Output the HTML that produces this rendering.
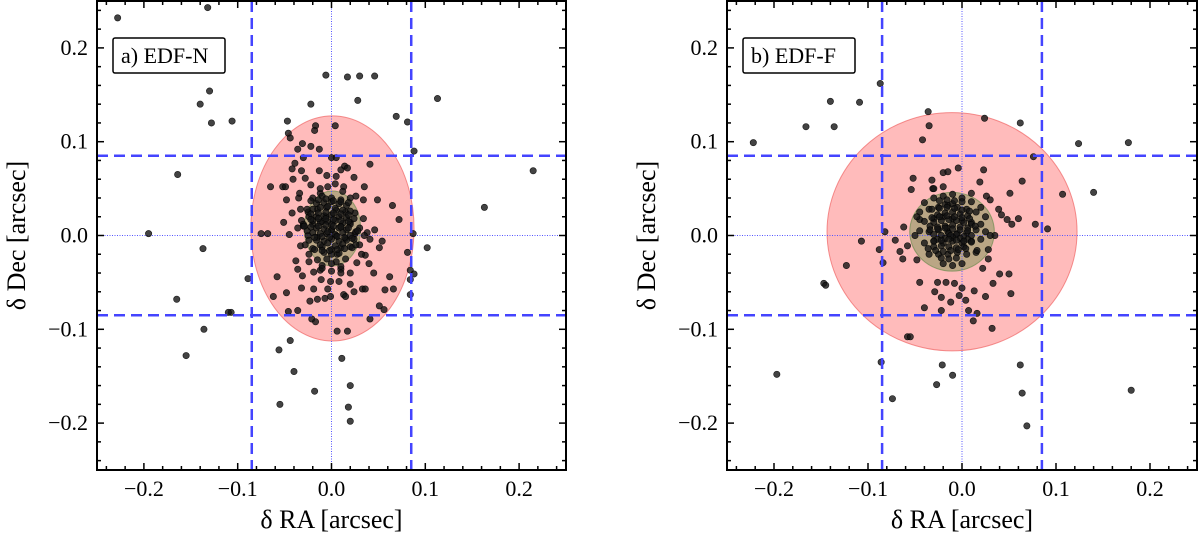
<!DOCTYPE html>
<html><head><meta charset="utf-8"><style>
body{margin:0;background:#fff;}
svg{display:block;}
text{font-family:"Liberation Serif","DejaVu Serif",serif;}
</style></head><body>
<svg id="fig" width="1200" height="536" viewBox="0 0 1200 536" xmlns="http://www.w3.org/2000/svg"></svg>
<script>
const ticks=[-0.2,-0.1,0.0,0.1,0.2];
const tickLabels=["\u22120.2","\u22120.1","0.0","0.1","0.2"];
const dashLimit=0.085;
const ellipseA={ra:0.001,dec:0.0075,rx:0.087,ry:0.12};
const coreA={ra:0.001,dec:0.0075,rx:0.03,ry:0.04};
const ellipseB={ra:-0.0106,dec:0.004,rx:0.133,ry:0.127};
const coreB={ra:-0.0106,dec:0.004,rx:0.045,ry:0.042};
const raA=[-0.022,0.028,-0.106,-0.047,0.069,0.081,-0.017,0.004,-0.046,-0.044,-0.018,-0.031,-0.022,-0.013,-0.036,0.088,0,0.005,-0.03,-0.039,0.041,0.014,0.017,-0.042,-0.032,-0.013,0.01,-0.028,-0.041,0.024,-0.005,0.005,-0.065,-0.052,-0.049,-0.022,0.013,0.035,0.026,-0.012,-0.048,-0.035,0.049,0.065,0.034,-0.042,-0.033,0.072,0.034,-0.051,-0.032,0.046,-0.075,-0.068,-0.045,-0.036,0.038,0.087,0.102,0.054,0.041,0.051,0.036,0.081,-0.033,-0.024,-0.038,-0.036,-0.024,0.027,0.04,0.045,0.084,0.088,0.01,-0.012,0.02,-0.019,-0.031,-0.089,-0.058,0.062,-0.001,0.008,-0.011,0.084,0.02,-0.032,-0.019,-0.004,0.033,0.036,0.057,0.066,-0.048,-0.062,0.024,0.013,0.015,0.084,-0.023,-0.015,-0.007,-0.001,0.051,0.056,-0.046,-0.036,-0.107,0.041,-0.021,-0.017,0.006,0.017,-0.044,-0.056,0.011,
-0.195,-0.164,-0.165,-0.155,-0.137,-0.136,-0.11,-0.13,-0.14,-0.128,-0.132,-0.228,-0.006,0.017,0.03,0.046,0.113,0.163,0.215,0.02,0.018,0.02,-0.018,-0.055,-0.04,
-0.02,-0.01,0,0.01,0.02,-0.025,-0.015,-0.005,0.005,0.015,0.025,-0.02,-0.01,0,0.01,0.02,-0.025,-0.015,-0.005,0.005,0.015,0.025,-0.02,-0.01,0,0.01,0.02,-0.015,-0.005,0.005,0.015,-0.01,0,0.01,-0.03,0.03,-0.028,0.03,-0.012,0.012,0.0,-0.006,0.006,
-0.016,-0.008,0.0,0.008,0.016,-0.02,-0.012,-0.004,0.004,0.012,0.02,-0.016,-0.008,0.0,0.008,0.016,-0.02,-0.012,-0.004,0.004,0.012,0.02,-0.016,-0.008,0.0,0.008,0.016,-0.02,-0.012,-0.004,0.004,0.012,0.02,-0.016,-0.008,0.0,0.008,0.016,-0.012,-0.004,0.004,0.012,-0.008,0.0,0.008,-0.024,0.024,-0.024,0.024,-0.026,0.026,-0.034,-0.03,0.035,0.032,-0.01,0.01,0.0,-0.004,0.004,
-0.022,-0.014,-0.006,0.002,0.01,0.018,-0.022,-0.014,-0.006,0.002,0.01,0.018,-0.022,-0.014,-0.006,0.002,0.01,0.018,-0.022,-0.014,-0.006,0.002,0.01,0.018,-0.018,-0.01,-0.002,0.006,0.014,0.022,-0.018,-0.01,-0.002,0.006,0.014,0.022,-0.026,0.026,-0.029,0.028];
const decA=[0.14,0.144,0.122,0.122,0.127,0.121,0.117,0.117,0.109,0.104,0.112,0.098,0.095,0.092,0.092,0.09,0.083,0.083,0.083,0.077,0.076,0.074,0.072,0.071,0.069,0.069,0.07,0.061,0.06,0.062,0.064,0.063,0.052,0.052,0.052,0.054,0.052,0.052,0.042,0.045,0.038,0.04,0.038,0.032,0.038,0.024,0.028,0.017,0.018,0.014,0.016,0.006,0.002,0.002,0.001,0.008,0.003,0.002,-0.013,-0.006,-0.004,-0.013,-0.021,-0.018,-0.011,-0.02,-0.027,-0.036,-0.028,-0.029,-0.03,-0.04,-0.037,-0.041,-0.036,-0.037,-0.04,-0.039,-0.043,-0.046,-0.044,-0.044,-0.049,-0.049,-0.047,-0.047,-0.052,-0.056,-0.057,-0.057,-0.057,-0.057,-0.058,-0.057,-0.061,-0.065,-0.06,-0.063,-0.065,-0.063,-0.07,-0.068,-0.067,-0.065,-0.075,-0.079,-0.081,-0.08,-0.082,-0.089,-0.089,-0.092,-0.102,-0.102,-0.112,-0.122,-0.131,
0.002,0.065,-0.068,-0.128,-0.014,-0.1,-0.082,0.154,0.14,0.12,0.243,0.232,0.171,0.169,0.17,0.17,0.146,0.03,0.069,-0.16,-0.183,-0.198,-0.166,-0.18,-0.145,
0.04,0.042,0.04,0.038,0.04,0.025,0.028,0.03,0.027,0.025,0.024,0.012,0.015,0.012,0.01,0.014,0.0,-0.002,0.002,0.0,-0.003,0.002,-0.014,-0.012,-0.015,-0.013,-0.012,-0.026,-0.025,-0.028,-0.025,-0.032,-0.03,-0.033,0.012,0.008,-0.01,-0.01,0.05,0.047,0.006,0.02,-0.02,
0.034,0.035,0.036,0.034,0.032,0.028,0.03,0.031,0.029,0.027,0.026,0.02,0.021,0.022,0.02,0.019,0.016,0.014,0.015,0.016,0.013,0.012,0.008,0.007,0.006,0.008,0.006,0.003,0.002,0.004,0.001,0.003,0.0,-0.005,-0.006,-0.004,-0.006,-0.005,-0.01,-0.008,-0.011,-0.009,-0.018,-0.02,-0.019,0.02,0.018,-0.005,-0.004,0.005,0.004,0.045,0.01,0.0,-0.02,-0.035,-0.04,-0.038,0.052,0.055,
0.037,0.038,0.039,0.037,0.036,0.035,0.023,0.024,0.025,0.024,0.023,0.022,0.017,0.018,0.018,0.017,0.016,0.015,0.009,0.01,0.011,0.01,0.009,0.008,-0.002,-0.001,-0.002,-0.001,-0.002,-0.003,-0.015,-0.016,-0.016,-0.015,-0.014,-0.013,0.028,-0.01,0.01,0.005];
const raB=[-0.109,-0.136,-0.036,-0.035,-0.042,0.024,0.062,0.124,0.076,-0.004,-0.02,-0.015,0.023,-0.052,-0.032,0.019,0.064,-0.054,-0.031,-0.02,0.107,0.051,0.026,0.03,0.039,0.042,0.048,0.053,0.06,0.078,0.091,0.035,-0.062,-0.045,-0.071,-0.082,-0.107,-0.088,-0.066,-0.058,-0.063,-0.123,-0.084,-0.048,0.028,0.022,0.04,0.05,0.033,0.052,-0.147,-0.045,-0.026,-0.017,-0.008,0,-0.029,-0.022,-0.012,-0.003,0.004,0.013,0.025,-0.04,-0.022,0.007,0.016,0.012,0.032,-0.058,-0.055,-0.086,-0.021,-0.01,0.062,
-0.222,-0.166,-0.14,-0.087,0.177,0.14,-0.145,-0.197,-0.074,-0.027,0.069,0.18,0.064,
-0.04,-0.03,-0.02,-0.01,0,0.01,0.02,-0.045,-0.035,-0.025,-0.015,-0.005,0.005,0.015,0.025,-0.04,-0.03,-0.02,-0.01,0,0.01,0.02,-0.045,-0.035,-0.025,-0.015,-0.005,0.005,0.015,0.025,-0.04,-0.03,-0.02,-0.01,0,0.01,0.02,-0.035,-0.025,-0.015,-0.005,0.005,0.015,-0.02,-0.01,0,-0.05,0.03,-0.048,0.028,-0.03,0.01,
-0.026,-0.018,-0.01,-0.002,0.006,-0.03,-0.022,-0.014,-0.006,0.002,0.01,-0.026,-0.018,-0.01,-0.002,0.006,-0.03,-0.022,-0.014,-0.006,0.002,0.01,-0.026,-0.018,-0.01,-0.002,0.006,-0.03,-0.022,-0.014,-0.006,0.002,-0.022,-0.014,-0.006,-0.018,-0.01,-0.034,0.014,-0.036,0.016,-0.012,-0.016,
-0.032,-0.024,-0.016,-0.008,0.0,0.008,-0.032,-0.024,-0.016,-0.008,0.0,0.008,-0.034,-0.026,-0.018,-0.01,-0.002,0.006,-0.03,-0.022,-0.014,-0.006,0.002,0.01,-0.028,-0.02,-0.012,-0.004,0.004,-0.024,-0.016,-0.008,0.0];
const decB=[0.142,0.116,0.132,0.117,0.102,0.125,0.12,0.098,0.084,0.072,0.067,0.068,0.07,0.061,0.059,0.057,0.058,0.049,0.05,0.052,0.044,0.045,0.042,0.038,0.028,0.022,0.017,0.012,0.018,0.012,0.007,0,0.009,0.017,-0.005,0.004,-0.006,-0.015,-0.017,-0.011,-0.025,-0.032,-0.029,-0.026,-0.025,-0.035,-0.041,-0.041,-0.051,-0.062,-0.051,-0.05,-0.05,-0.05,-0.051,-0.056,-0.06,-0.066,-0.071,-0.064,-0.069,-0.059,-0.065,-0.077,-0.08,-0.08,-0.083,-0.091,-0.099,-0.108,-0.108,-0.135,-0.138,-0.149,-0.138,
0.099,0.116,0.143,0.162,0.099,0.046,-0.053,-0.148,-0.174,-0.159,-0.203,-0.165,-0.168,
0.035,0.04,0.042,0.044,0.04,0.036,0.03,0.025,0.028,0.03,0.032,0.03,0.028,0.025,0.02,0.015,0.018,0.02,0.018,0.016,0.014,0.012,0.005,0.004,0.006,0.004,0.002,0.003,0.006,0.004,-0.008,-0.006,-0.008,-0.006,-0.008,-0.006,-0.004,-0.02,-0.02,-0.02,-0.018,-0.02,-0.018,-0.03,-0.032,-0.03,0.0,0.0,0.02,-0.015,0.05,0.045,
0.022,0.024,0.025,0.023,0.021,0.014,0.016,0.017,0.016,0.014,0.012,0.009,0.01,0.011,0.009,0.008,0.001,0.0,0.002,0.001,-0.001,0.0,-0.004,-0.003,-0.002,-0.003,-0.004,-0.012,-0.011,-0.012,-0.013,-0.012,-0.024,-0.025,-0.024,0.033,0.034,0.01,0.01,-0.014,-0.016,0.0,0.008,
0.028,0.029,0.03,0.029,0.027,0.026,0.019,0.02,0.021,0.02,0.019,0.018,0.006,0.007,0.008,0.007,0.006,0.005,-0.006,-0.005,-0.004,-0.005,-0.006,-0.007,-0.016,-0.017,-0.016,-0.015,-0.014,0.037,0.038,0.037,0.036];

const NS="http://www.w3.org/2000/svg";
const svg=document.getElementById('fig');
const SERIF='"Liberation Serif", "DejaVu Serif", serif';
function mk(tag,attrs,parent){const e=document.createElementNS(NS,tag);for(const k in attrs)e.setAttribute(k,attrs[k]);if(tag==='text')e.style.fontFamily=SERIF;(parent||svg).appendChild(e);return e;}

function panel(x0,x1,y0,y1,label,ell,core,ras,decs,key){
  const sx=v=>x0+(v+0.25)/0.5*(x1-x0);
  const sy=v=>y1-(v+0.25)/0.5*(y1-y0);
  const g=mk('g',{});
  
  
  const e1=mk('ellipse',{cx:sx(ell.ra),cy:sy(ell.dec),rx:sx(ell.rx)-sx(0),ry:sy(0)-sy(ell.ry),fill:'rgba(255,120,120,0.5)',stroke:'rgba(240,100,100,0.7)','stroke-width':1},g);
  
  
  const e2=mk('ellipse',{cx:sx(core.ra),cy:sy(core.dec),rx:sx(core.rx)-sx(0),ry:sy(0)-sy(core.ry),fill:'rgba(130,150,90,0.55)',stroke:'rgba(110,140,80,0.7)','stroke-width':1},g);
  
  
  const l1=mk('line',{x1:sx(0),x2:sx(0),y1:y0,y2:y1,stroke:'#5555ff','stroke-width':1,'stroke-dasharray':'1,1.5'},g);
  
  
  const l2=mk('line',{x1:x0,x2:x1,y1:sy(0),y2:sy(0),stroke:'#5555ff','stroke-width':1,'stroke-dasharray':'1,1.5'},g);
  
  
  for(let i=0;i<ras.length;i++){
    const c=mk('circle',{cx:sx(ras[i]),cy:sy(decs[i]),r:3.2,fill:'rgba(20,20,20,0.8)',stroke:'rgba(0,0,0,0.8)','stroke-width':0.6},g);
    
    
  }
  [-dashLimit,dashLimit].forEach(v=>{
    const a=mk('line',{x1:sx(v),x2:sx(v),y1:y0,y2:y1,stroke:'#4444ff','stroke-width':2.5,'stroke-dasharray':'11,6'},g);
    
    
    const b=mk('line',{x1:x0,x2:x1,y1:sy(v),y2:sy(v),stroke:'#4444ff','stroke-width':2.5,'stroke-dasharray':'11,6'},g);
    
    
  });
  for(let k=-12;k<=12;k++){
    const v=k*0.02;const major=(k%5===0);const L=major?7:4;
    mk('line',{x1:sx(v),x2:sx(v),y1:y1,y2:y1-L,stroke:'#000','stroke-width':1.5},g);
    mk('line',{x1:sx(v),x2:sx(v),y1:y0,y2:y0+L,stroke:'#000','stroke-width':1.5},g);
    mk('line',{x1:x0,x2:x0+L,y1:sy(v),y2:sy(v),stroke:'#000','stroke-width':1.5},g);
    mk('line',{x1:x1,x2:x1-L,y1:sy(v),y2:sy(v),stroke:'#000','stroke-width':1.5},g);
  }
  ticks.forEach((v,i)=>{
    const t=mk('text',{x:sx(v),y:y1+26,'text-anchor':'middle','font-size':22},g);
    t.textContent=tickLabels[i];
    
    
    const u=mk('text',{x:x0-9,y:sy(v)+7,'text-anchor':'end','font-size':22},g);
    u.textContent=tickLabels[i];
    
    
  });
  const fr=mk('rect',{x:x0,y:y0,width:x1-x0,height:y1-y0,fill:'none',stroke:'#000','stroke-width':2},g);
  
  
  const xl=mk('text',{x:(x0+x1)/2,y:528,'text-anchor':'middle','font-size':26},g);
  xl.textContent='\u03b4 RA [arcsec]';
  
  
  const yx=x0-72,yy=(y0+y1)/2;
  const yl=mk('text',{x:yx,y:yy,'text-anchor':'middle','font-size':26,transform:`rotate(-90 ${yx} ${yy})`},g);
  yl.textContent='\u03b4 Dec [arcsec]';
  
  
  const bw=label.length*11.5+20;
  const lb=mk('rect',{x:x0+16,y:38,width:bw,height:35,fill:'#fff',stroke:'#000','stroke-width':1.5,rx:2},g);
  
  
  const lt=mk('text',{x:x0+24,y:63,'font-size':22},g);
  lt.textContent=label;
  
  
}
panel(97,566,1,470,'a) EDF-N',ellipseA,coreA,raA,decA,'edf-n');
panel(727,1197,1,470,'b) EDF-F',ellipseB,coreB,raB,decB,'edf-f');
</script>
</body></html>
